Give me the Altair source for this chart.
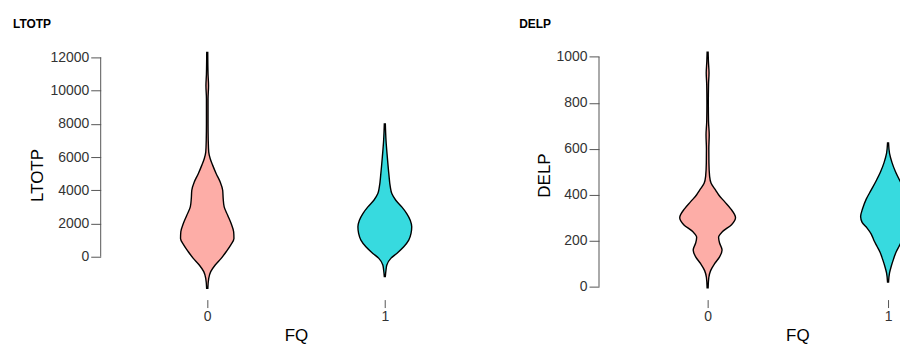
import altair as alt
import pandas as pd

# ---- data (value on y, relative violin half-width) ----
ltotp_fq0_value = [-1900, -1300, -900, -500, -100, 300, 700, 1100, 1500, 2000, 2500, 3000,
                   3500, 4000, 4500, 5000, 5500, 5900, 6300, 7000, 8000, 9500, 10300, 11000, 12300]
ltotp_fq0_density = [0.6, 1.5, 3.5, 8, 14, 19, 23.5, 26.8, 26.5, 24, 20.5, 17,
                     16, 15.5, 13, 9, 5.5, 3, 1.5, 1.0, 0.8, 0.8, 1.3, 0.8, 0.5]

ltotp_fq1_value = [-1200, -800, -500, -100, 200, 600, 1000, 1400, 1800, 2200, 2600, 3000,
                   3400, 3800, 4200, 5000, 6000, 7000, 8000]
ltotp_fq1_density = [0.5, 1.2, 2, 6, 12, 19, 24, 26.3, 27, 25.5, 22, 17,
                     11, 7, 5.5, 4, 2.5, 1.2, 0.5]

delp_fq0_value = [-5, 40, 70, 100, 130, 160, 190, 215, 240, 270, 300, 340, 370, 400, 420,
                  450, 480, 540, 600, 660, 720, 800, 880, 930, 980, 1020]
delp_fq0_density = [0.5, 1.2, 3, 7, 12, 14.5, 12, 11, 15, 24, 28, 23, 17, 11, 8,
                    3.5, 2, 1.3, 1.2, 1.6, 0.9, 0.7, 0.9, 1.4, 0.8, 0.5]

delp_fq1_value = [20, 60, 90, 120, 150, 175, 200, 230, 255, 280, 305, 340, 380, 420,
                  460, 500, 540, 580, 625]
delp_fq1_density = [0.5, 1.5, 3.3, 5.5, 8, 11, 14, 17, 21, 26, 27.5, 25.5, 22, 17,
                    12, 7.5, 4, 1.5, 0.5]

ltotp_ticks = [0, 2000, 4000, 6000, 8000, 10000, 12000]
delp_ticks = [0, 200, 400, 600, 800, 1000]
fq_ticks = [0, 1]

PINK = "#FDADA7"
TEAL = "#37DADF"
AXIS_GRAY = "#555555"
FONT = "Liberation Sans"
PLOT_H = 250


def violin(title, ytitle, v0, d0, v1, d1, ydomain, yticks, width, xdomain, title_x):
    df = pd.DataFrame({
        "FQ": [0] * len(v0) + [1] * len(v1),
        "value": v0 + v1,
        "density": d0 + d1,
    })
    k = (xdomain[1] - xdomain[0]) / width
    yaxis = alt.Axis(values=yticks, format="d", title=ytitle, domain=False, grid=False,
                     tickSize=10, tickColor=AXIS_GRAY, labelFontSize=14,
                     labelColor="#333333", labelPadding=2, titleFontSize=17,
                     titleFontWeight="normal", titleColor="black", titlePadding=3)
    yscale = alt.Scale(domain=ydomain, nice=False, zero=False)
    area = alt.Chart(df).transform_calculate(
        lo=f"datum.FQ - datum.density * {k}",
        hi=f"datum.FQ + datum.density * {k}",
    ).mark_area(orient="horizontal", interpolate="monotone", stroke="black",
                strokeWidth=1.4, clip=True).encode(
        y=alt.Y("value:Q", scale=yscale, axis=yaxis),
        x=alt.X("lo:Q", scale=alt.Scale(domain=xdomain, nice=False, zero=False),
                axis=alt.Axis(values=fq_ticks, format="d", title="FQ", domain=False,
                              grid=False, tickSize=8, tickColor=AXIS_GRAY,
                              labelFontSize=14, labelColor="#333333", labelPadding=2,
                              titleFontSize=17, titleFontWeight="normal",
                              titleColor="black", titlePadding=4, titleX=title_x)),
        x2="hi:Q",
        color=alt.Color("FQ:N", scale=alt.Scale(domain=[0, 1], range=[PINK, TEAL]),
                        legend=None),
    )
    rule_df = pd.DataFrame({"value": [yticks[0]], "value2": [yticks[-1]]})
    rule = alt.Chart(rule_df).mark_rule(color=AXIS_GRAY, strokeWidth=1).encode(
        y=alt.Y("value:Q", scale=yscale, axis=yaxis),
        y2="value2:Q",
        x=alt.value(0),
    )
    return alt.layer(rule, area).properties(
        width=width, height=PLOT_H,
        title=alt.TitleParams(title, anchor="start", fontSize=12, fontWeight="bold",
                              font=FONT, color="black", offset=19, dx=-16),
    )


left = violin("LTOTP", "LTOTP", ltotp_fq0_value, ltotp_fq0_density,
              ltotp_fq1_value, ltotp_fq1_density, [-2580, 12420], ltotp_ticks,
              392, [-0.6, 1.6], 196)
right = violin("DELP", "DELP", delp_fq0_value, delp_fq0_density,
               delp_fq1_value, delp_fq1_density, [-56, 1028], delp_ticks,
               302, [-0.602, 1.0663], 199)

chart = alt.hconcat(left, right, spacing=27).configure(
    font=FONT,
    padding={"left": 5, "top": 9, "right": 0, "bottom": 0},
).configure_view(stroke=None)

chart.save("out.html", embed_options={"renderer": "svg", "actions": False})
